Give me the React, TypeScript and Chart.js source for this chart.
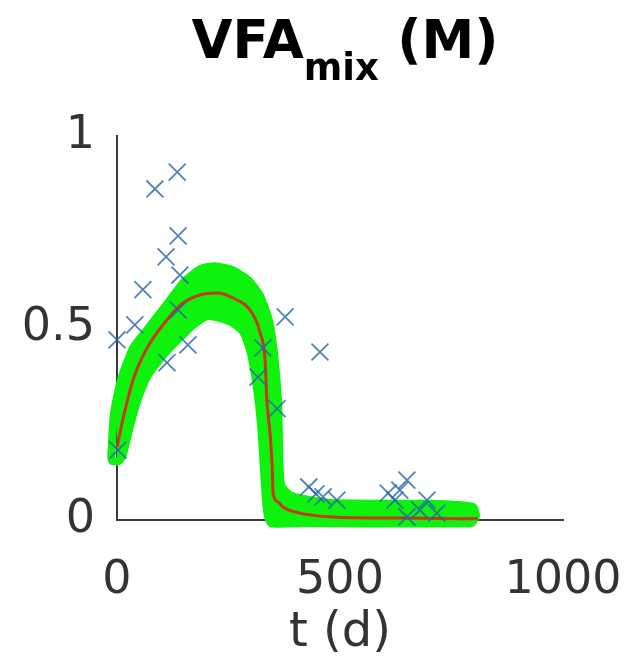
import React, { useEffect, useRef } from 'react';
import { Chart, registerables } from 'chart.js';

Chart.register(...registerables);

// Model mean trajectory (t in days, VFA_mix in M)
const meanT = [0, 16, 36, 55, 74, 112, 148, 186, 224, 260, 303, 321, 332, 336, 343, 348, 350, 360, 372, 410, 484, 635, 809];
const meanV = [0.19, 0.276, 0.365, 0.42, 0.461, 0.521, 0.565, 0.586, 0.591, 0.578, 0.539, 0.487, 0.417, 0.313, 0.227, 0.138, 0.07, 0.048, 0.034, 0.018, 0.008, 0.005, 0.003];

// Uncertainty envelope (centre line of its thick outline): outer edge left->right, inner edge right->left
const bandOuterT = [-13, -7, 9, 36, 65, 117, 152, 188, 220, 258, 294, 321, 341, 352, 361, 363, 368, 392, 484, 702, 798, 805];
const bandOuterV = [0.164, 0.276, 0.365, 0.448, 0.492, 0.57, 0.622, 0.654, 0.661, 0.651, 0.625, 0.583, 0.518, 0.435, 0.313, 0.227, 0.091, 0.0625, 0.044, 0.042, 0.034, 0.01];
const bandInnerT = [794, 410, 345, 336, 330, 323, 314, 300, 283, 260, 231, 202, 173, 152, 108, 67, 43, 27, 13, 4, -11];
const bandInnerV = [-0.008, -0.008, -0.008, 0.026, 0.122, 0.247, 0.341, 0.435, 0.49, 0.513, 0.526, 0.531, 0.51, 0.487, 0.435, 0.372, 0.302, 0.234, 0.169, 0.154, 0.154];

// Observations
const obsT = [0, 2, 40, 58, 85, 135, 137, 110, 141, 137, 159, 112, 327, 316, 359, 377, 455, 430, 446, 462, 493, 608, 623, 634, 650, 679, 695, 650, 717];
const obsV = [0.469, 0.182, 0.508, 0.6, 0.862, 0.906, 0.74, 0.685, 0.638, 0.547, 0.456, 0.41, 0.448, 0.372, 0.29, 0.529, 0.4375, 0.086, 0.068, 0.06, 0.052, 0.07, 0.052, 0.078, 0.104, 0.026, 0.052, 0.008, 0.018];

const xTicks = [0, 500, 1000];
const yTicks = [0, 0.5, 1];
const xLabel = 't (d)';
const titleMain = 'VFA';
const titleSub = 'mix';
const titleTail = ' (M)';

const FONT = '"DejaVu Sans", sans-serif';
const AXIS_COLOR = '#3a3a3a';
const LABEL_COLOR = '#333333';
const GREEN = 'rgb(14,242,14)';

const titlePlugin = {
  id: 'subscriptTitle',
  afterDraw(chart: any) {
    const ctx = chart.ctx as CanvasRenderingContext2D;
    const big = `bold 53px ${FONT}`;
    const small = `bold 37px ${FONT}`;
    ctx.save();
    ctx.fillStyle = '#000000';
    ctx.textBaseline = 'alphabetic';
    ctx.textAlign = 'left';
    ctx.font = big;
    const w1 = ctx.measureText(titleMain).width;
    const w3 = ctx.measureText(titleTail).width;
    ctx.font = small;
    const w2 = ctx.measureText(titleSub).width;
    const total = w1 + w2 + w3;
    const cx = (chart.chartArea.left + chart.chartArea.right) / 2 + 5;
    let x = cx - total / 2;
    ctx.font = big;
    ctx.fillText(titleMain, x, 58);
    x += w1;
    ctx.font = small;
    ctx.fillText(titleSub, x, 80);
    x += w2;
    ctx.font = big;
    ctx.fillText(titleTail, x, 58);
    ctx.restore();
  },
};

export default function App() {
  const canvasRef = useRef<HTMLCanvasElement | null>(null);

  useEffect(() => {
    document.body.style.margin = '0';
    const canvas = canvasRef.current;
    if (!canvas) return;

    const band = [
      ...bandOuterT.map((t, i) => ({ x: t, y: bandOuterV[i] })),
      ...bandInnerT.map((t, i) => ({ x: t, y: bandInnerV[i] })),
      { x: bandOuterT[0], y: bandOuterV[0] },
    ];
    const mean = meanT.map((t, i) => ({ x: t, y: meanV[i] }));
    const obs = obsT.map((t, i) => ({ x: t, y: obsV[i] }));

    const chart = new Chart(canvas, {
      type: 'scatter',
      data: {
        datasets: [
          {
            label: 'data',
            data: obs,
            pointStyle: 'crossRot',
            pointRadius: 12,
            pointBorderWidth: 1.8,
            borderColor: 'rgba(35,100,170,0.8)',
            backgroundColor: 'rgba(35,100,170,0.8)',
            showLine: false,
            order: 0,
            clip: false,
          } as any,
          {
            label: 'mean',
            data: mean,
            showLine: true,
            borderColor: '#c43a14',
            borderWidth: 3,
            pointRadius: 0,
            cubicInterpolationMode: 'monotone',
            order: 1,
            clip: false,
          } as any,
          {
            label: 'band',
            data: band,
            showLine: true,
            fill: 'shape',
            tension: 0.2,
            backgroundColor: GREEN,
            borderColor: GREEN,
            borderWidth: 8,
            borderJoinStyle: 'round',
            borderCapStyle: 'round',
            pointRadius: 0,
            order: 2,
            clip: false,
          } as any,
        ],
      },
      options: {
        animation: false,
        responsive: false,
        maintainAspectRatio: false,
        layout: { padding: { top: 136, right: 71, left: 0, bottom: 0 } },
        plugins: {
          legend: { display: false },
          tooltip: { enabled: false },
          title: { display: false },
        },
        scales: {
          x: {
            type: 'linear',
            min: 0,
            max: 1000,
            afterBuildTicks: (s: any) => {
              s.ticks = xTicks.map((v) => ({ value: v }));
            },
            afterFit: (s: any) => {
              s.height = 149;
              s.paddingLeft = 0;
              s.paddingRight = 0;
            },
            grid: { display: false, drawTicks: false },
            border: { display: true, color: AXIS_COLOR, width: 2 },
            ticks: {
              color: LABEL_COLOR,
              font: { family: FONT, size: 46 },
              padding: 33,
              maxRotation: 0,
              autoSkip: false,
              callback: (v: any) => String(v),
            },
            title: {
              display: true,
              text: xLabel,
              color: LABEL_COLOR,
              font: { family: FONT, size: 48 },
              padding: { top: 0, bottom: 7 },
            },
          },
          y: {
            type: 'linear',
            min: 0,
            max: 1,
            afterBuildTicks: (s: any) => {
              s.ticks = yTicks.map((v) => ({ value: v }));
            },
            afterFit: (s: any) => {
              s.width = 117;
            },
            grid: { display: false, drawTicks: false },
            border: { display: true, color: AXIS_COLOR, width: 2 },
            ticks: {
              color: LABEL_COLOR,
              font: { family: FONT, size: 46 },
              padding: 22,
              autoSkip: false,
              callback: (v: any) => String(v),
            },
          },
        },
      },
      plugins: [titlePlugin],
    });

    return () => {
      chart.destroy();
    };
  }, []);

  return (
    <div style={{ width: 634, height: 669, background: '#ffffff' }}>
      <canvas ref={canvasRef} width={634} height={669} style={{ display: 'block' }} />
    </div>
  );
}
